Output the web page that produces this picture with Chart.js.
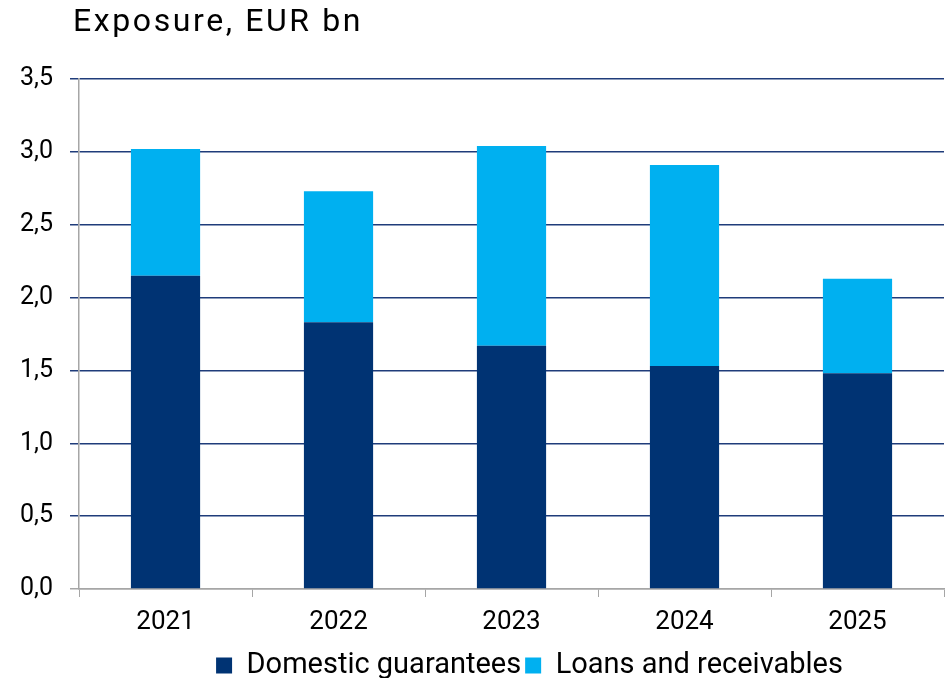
<!DOCTYPE html>
<html>
<head>
<meta charset="utf-8">
<script src="https://cdn.jsdelivr.net/npm/chart.js@4/dist/chart.umd.min.js"></script>
<style>
  html, body { margin: 0; padding: 0; background: #fff; }
  #wrap { position: relative; width: 949px; height: 678px; overflow: hidden; }
  #title {
    position: absolute; left: 73px; top: 1px;
    font-family: Roboto, sans-serif; font-size: 32px; line-height: 38px;
    letter-spacing: 2.6px; color: #000; white-space: nowrap;
  }
</style>
</head>
<body>
<div id="wrap">
  <div id="title">Exposure, EUR bn</div>
  <canvas id="chart" width="949" height="678"></canvas>
</div>
<script>
// Données
const years = ["2021", "2022", "2023", "2024", "2025"];
const domesticGuarantees = [2.15, 1.83, 1.67, 1.53, 1.48];
const loansReceivables = [0.87, 0.90, 1.37, 1.38, 0.65];
const yTicks = [0, 0.5, 1, 1.5, 2, 2.5, 3, 3.5];

const navy = "#003373";
const cyan = "#00B0F0";
const gridNavy = "#1F3C7A";
const axisGray = "#A6A6A6";

// La légende de l'original est décalée vers la droite
const decalerLegende = {
  id: "decalerLegende",
  afterLayout(chart) {
    chart.legend.left += 56;
    chart.legend.right += 56;
  },
};

const ctx = document.getElementById("chart");

new Chart(ctx, {
  type: "bar",
  plugins: [decalerLegende],
  data: {
    labels: years,
    datasets: [
      {
        label: "Domestic guarantees",
        data: domesticGuarantees,
        backgroundColor: navy,
        barPercentage: 0.4,
        categoryPercentage: 1,
      },
      {
        label: "Loans and receivables",
        data: loansReceivables,
        backgroundColor: cyan,
        barPercentage: 0.4,
        categoryPercentage: 1,
      },
    ],
  },
  options: {
    responsive: false,
    animation: false,
    layout: { padding: { top: 79, left: 3, right: 5, bottom: -12 } },
    plugins: {
      tooltip: { enabled: false },
      legend: {
        position: "bottom",
        labels: {
          font: { family: "Roboto", size: 29, lineHeight: 0.75 },
          color: "#000",
          boxWidth: 16,
          boxHeight: 16,
          padding: 4,
        },
      },
    },
    scales: {
      x: {
        stacked: true,
        grid: {
          offset: true,
          drawOnChartArea: false,
          color: axisGray,
          tickLength: 8,
        },
        border: { color: axisGray, width: 1.5 },
        ticks: {
          font: { family: "Roboto", size: 26, lineHeight: 1 },
          color: "#000",
          padding: 12,
        },
      },
      y: {
        stacked: true,
        min: 0,
        max: 3.5,
        afterBuildTicks: (axis) => {
          axis.ticks = yTicks.map((v) => ({ value: v }));
        },
        grid: {
          color: (c) => (c.tick && c.tick.value === 0 ? axisGray : gridNavy),
          lineWidth: 1.5,
          tickLength: 9,
        },
        border: { color: axisGray, width: 1.5 },
        ticks: {
          font: { family: "Roboto", size: 25 },
          color: "#000",
          padding: 17,
          callback: (v) => v.toFixed(1).replace(".", ","),
        },
      },
    },
  },
});
</script>
</body>
</html>
